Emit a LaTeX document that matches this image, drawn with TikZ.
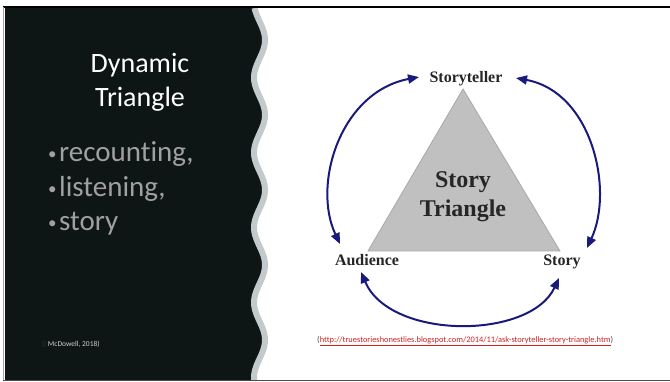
\documentclass[tikz,border=0pt]{standalone}
\usepackage{fontspec}
\setmainfont{Carlito}[Ligatures=NoCommon]
\newfontfamily\diagfont{Liberation Serif}
\usetikzlibrary{arrows.meta}
\definecolor{panel}{HTML}{0E1515}
\definecolor{band}{HTML}{C2CACC}
\definecolor{bulletgray}{HTML}{A0A0A0}
\definecolor{navy}{HTML}{1A1A7A}
\definecolor{trifill}{HTML}{C0C0C0}
\definecolor{tridraw}{HTML}{A8A8A8}
\definecolor{urlred}{HTML}{D02020}
\definecolor{faint}{HTML}{2E3636}
\definecolor{light}{HTML}{D0D0D0}
\newcommand{\smallbul}{{\fontsize{17}{17}\selectfont\raisebox{2.5pt}{•}}\hspace{2.5pt}}
\tikzset{
  titletext/.style={text=white, font=\fontsize{28}{30}\selectfont, inner sep=0pt},
  bullettext/.style={text=bulletgray, font=\fontsize{29}{30}\selectfont, inner sep=0pt},
  lab/.style={text=black!85, font=\diagfont\bfseries\fontsize{16}{18}\selectfont, inner sep=0pt},
  bigl/.style={text=black!85, font=\diagfont\bfseries\fontsize{24}{26}\selectfont, inner sep=0pt},
  cyc/.style={draw=navy, line width=2pt, {Triangle[length=11pt,width=9pt]}-{Triangle[length=11pt,width=9pt]}}
}
\begin{document}
\begin{tikzpicture}[x=1pt,y=-1pt]
\fill[white] (0,0) rectangle (670,382);
\useasboundingbox (0,0) rectangle (670,382);
% dark panel with wavy edge
\fill[panel] (5,7) -- plot[domain=7:380,samples=200] ({259.5+5.5*cos(4.8*(\x-40))}, \x) -- (5,380) -- cycle;
\draw[band, line width=6pt] plot[domain=8:380,samples=200] ({259.5+5.5*cos(4.8*(\x-40))}, \x);
% frame
\draw[black, line width=2pt] (3,7.5) -- (670,7.5);
\draw[black!35, line width=1.5pt] (3.5,7) -- (3.5,380);
\draw[black!70, line width=1.5pt] (3,380.5) -- (670,380.5);
% left texts
\node[titletext, anchor=base] (t1) at (140,73) {Dynamic};
\node[titletext, anchor=base] (t2) at (140,107) {Triangle};
\node[bullettext, anchor=base west] (b1) at (48,162) {\smallbul recounting,};
\node[bullettext, anchor=base west] (b2) at (48,197) {\smallbul listening,};
\node[bullettext, anchor=base west] (b3) at (48,231) {\smallbul story};
\node[anchor=base west, inner sep=0pt, font=\fontsize{7.5}{8}\selectfont] (ref) at (42,347) {\textcolor{faint}{((}\,\textcolor{light}{McDowell, 2018)}};
% triangle
\coordinate (vt) at (463,89);
\coordinate (vl) at (368,251);
\coordinate (vr) at (560,251);
\filldraw[fill=trifill, draw=tridraw, line width=0.8pt] (vt) -- (vl) -- (vr) -- cycle;
\node[bigl, anchor=base] (s1) at (463,188) {Story};
\node[bigl, anchor=base] (s2) at (463,217) {Triangle};
% labels
\node[lab, anchor=base] (st) at (466,83) {Storyteller};
\node[lab, anchor=base] (aud) at (367,266) {Audience};
\node[lab, anchor=base] (sto) at (562,266) {Story};
% cycle arrows
\coordinate (a1) at (419,77);
\coordinate (a2) at (340,244);
\coordinate (a3) at (516,78);
\coordinate (a4) at (587,248);
\coordinate (a5) at (361,272);
\coordinate (a6) at (559,278);
\draw[cyc] (a1) .. controls (340,92) and (312,185) .. (a2);
\draw[cyc] (a3) .. controls (592,92) and (614,190) .. (a4);
\draw[cyc] (a5) .. controls (390,340) and (530,340) .. (a6);
% url
\node[anchor=base west, inner sep=0pt, font=\fontsize{8.4}{9}\selectfont] (url) at (317,342) {\textcolor{black!70}{(}\textcolor{urlred}{\underline{http://truestorieshonestlies.blogspot.com/2014/11/ask-storyteller-story-triangle.htm}}\textcolor{black!70}{)}};
\end{tikzpicture}
\end{document}
